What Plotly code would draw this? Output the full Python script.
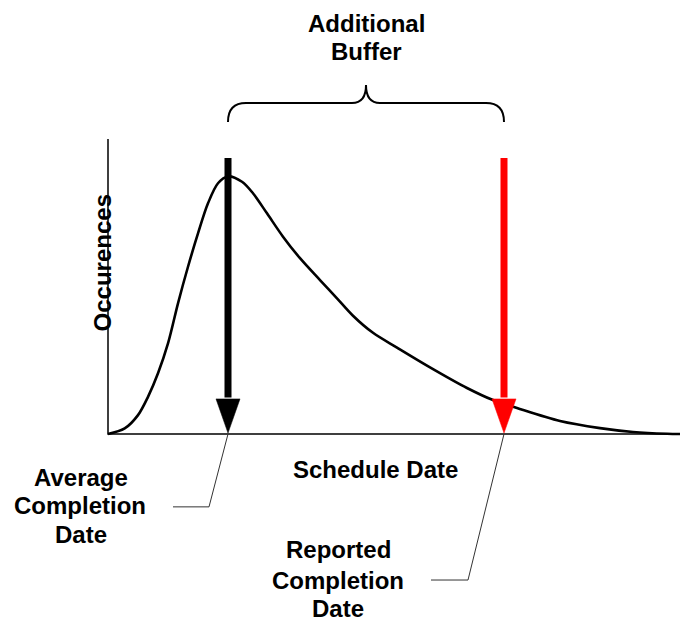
import plotly.graph_objects as go

# ---- data ----
# schedule date (days from start) and occurrences
curve_x = [0, 1.67, 3.0, 4.0, 5.0, 6.0, 7.0, 8.0, 9.0, 10.0, 11.0, 12.0, 13.4,
           14.5, 15.9, 17.5, 19.2, 21.2, 22.9, 24.5, 26.5, 28.9, 32.2, 35.9,
           38.5, 40.9, 45.2, 49.2, 52.5, 55.9, 58.0]
curve_y = [0, 1.9, 6.4, 12.6, 20.6, 30.7, 44.3, 56.7, 68.0, 78.2, 85.0, 87.3,
           85.5, 81.6, 74.8, 66.9, 59.6, 52.2, 46.0, 40.1, 34.3, 29.3, 22.6,
           15.6, 11.5, 8.8, 4.4, 2.0, 0.7, 0.1, 0.0]
avg_date = 12.0        # Average Completion Date
reported_date = 39.6   # Reported Completion Date
x_max = 58.0
y_max = 100.0

FONT = "Liberation Sans, Arial, sans-serif"

fig = go.Figure()

# axes lines
fig.add_trace(go.Scatter(x=[0, 0, x_max], y=[y_max, 0, 0], mode="lines",
                         line=dict(color="black", width=1.5), hoverinfo="skip"))
# distribution curve
fig.add_trace(go.Scatter(x=curve_x, y=curve_y, mode="lines",
                         line=dict(color="black", width=2.6, shape="spline", smoothing=0.9),
                         hoverinfo="skip"))

shaft_top = 93.6
head_base = 11.9
head_tip = 0.3
head_half = 1.2

def arrow(xc, color):
    fig.add_trace(go.Scatter(x=[xc, xc], y=[shaft_top, head_base + 0.5], mode="lines",
                             line=dict(color=color, width=7), hoverinfo="skip"))
    fig.add_trace(go.Scatter(x=[xc - head_half, xc + head_half, xc, xc - head_half],
                             y=[head_base, head_base, head_tip, head_base],
                             mode="lines", fill="toself", fillcolor=color,
                             line=dict(color=color, width=0.5), hoverinfo="skip"))

arrow(avg_date, "black")
arrow(reported_date, "#ff0000")

# leader lines
fig.add_trace(go.Scatter(x=[avg_date, avg_date - 1.9, avg_date - 5.5],
                         y=[0, -24.7, -24.7], mode="lines",
                         line=dict(color="#333333", width=1), hoverinfo="skip"))
fig.add_trace(go.Scatter(x=[reported_date, reported_date - 3.6, reported_date - 7.3],
                         y=[0, -49.5, -49.5], mode="lines",
                         line=dict(color="#333333", width=1), hoverinfo="skip"))

# brace
bl, br = avg_date, reported_date
bc = (bl + br) / 2
yb, yh, yt = 105.8, 112.2, 118.3
path = (f"M{bl},{yb} Q{bl},{yh} {bl+1.8},{yh} L{bc-1.4},{yh} Q{bc},{yh} {bc},{yt} "
        f"Q{bc},{yh} {bc+1.4},{yh} L{br-1.8},{yh} Q{br},{yh} {br},{yb}")
fig.add_shape(type="path", path=path, xref="x", yref="y",
              line=dict(color="black", width=2))

def label(text, x, y, angle=0):
    fig.add_annotation(x=x, y=y, text=text, showarrow=False, textangle=angle,
                       xanchor="center", yanchor="middle",
                       font=dict(family=FONT, size=24, color="black", weight=700))

label("Additional", bc, 139.3)
label("Buffer", bc, 129.5)
label("Schedule Date", 26.75, -12.0)
label("Average", -2.7, -14.6)
label("Completion", -2.8, -24.4)
label("Date", -2.7, -34.2)
label("Reported", 23.0, -39.3)
label("Completion", 23.0, -49.7)
label("Date", 23.0, -59.0)
label("Occurences", -0.55, 58.0, angle=-90)

# the page body has an 8px margin, so the figure is 680x612 and the
# ranges are set so that the chart lands where the reference shows it
fig.update_layout(
    width=680, height=612, autosize=False,
    margin=dict(l=0, r=0, t=0, b=0),
    paper_bgcolor="white", plot_bgcolor="white",
    showlegend=False,
    xaxis=dict(range=[-10.0, 58.0], visible=False, fixedrange=True),
    yaxis=dict(range=[-63.05, 144.41], visible=False, fixedrange=True),
)

fig.write_html("out.html", config={"displayModeBar": False})
